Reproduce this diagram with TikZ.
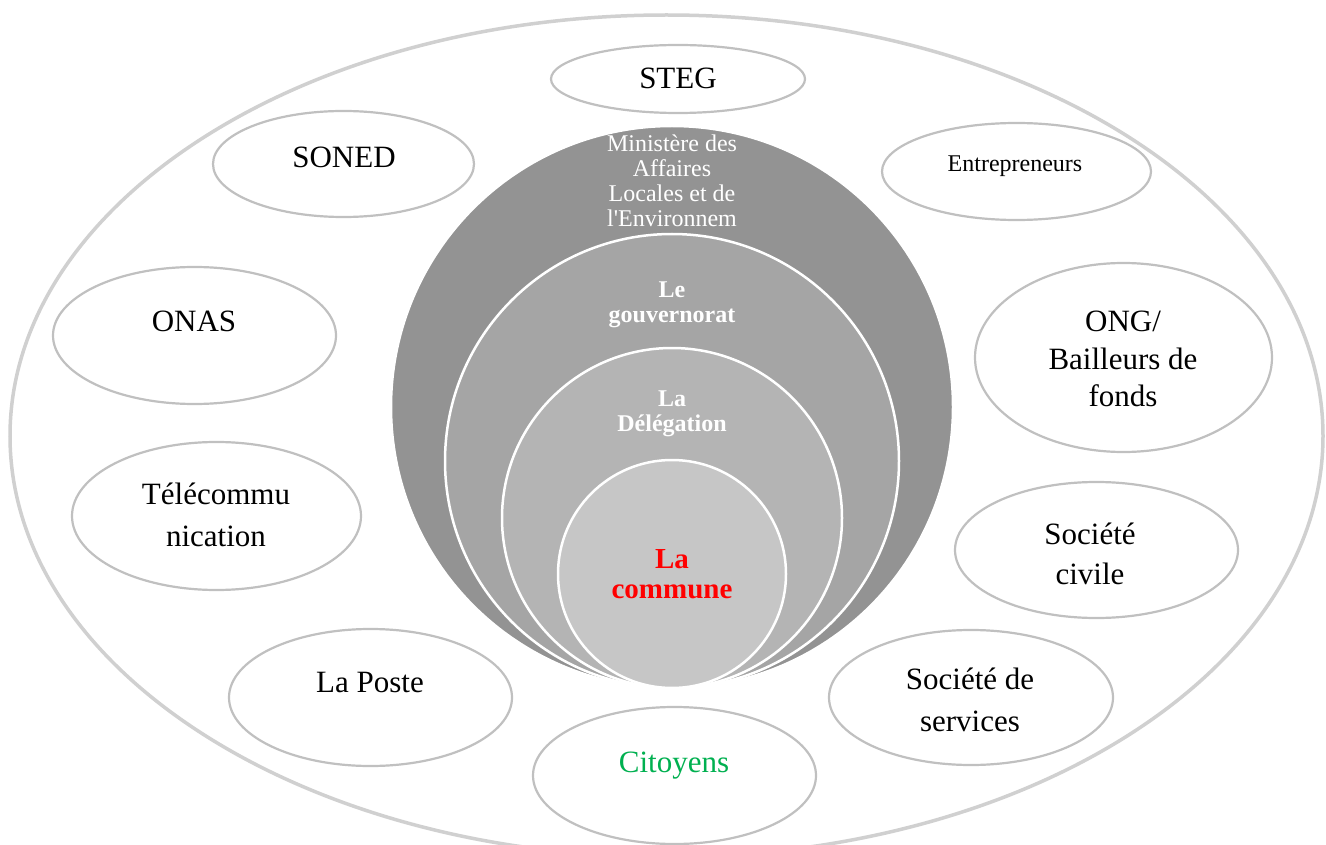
\documentclass[tikz,border=0pt]{standalone}
\usepackage{fontspec}
\setmainfont{Liberation Serif}[Ligatures=TeXOff]
\usetikzlibrary{shapes.geometric}
\definecolor{ringA}{HTML}{939393}
\definecolor{ringB}{HTML}{A5A5A5}
\definecolor{ringC}{HTML}{B4B4B4}
\definecolor{ringD}{HTML}{C6C6C6}
\definecolor{satline}{HTML}{C0C0C0}
\definecolor{frameline}{HTML}{D0D0D0}
\definecolor{citgreen}{HTML}{00B050}
\definecolor{comred}{HTML}{FF0000}
\begin{document}
\begin{tikzpicture}[x=1pt,y=-1pt,
  frame/.style={ellipse, draw=frameline, line width=3.5pt, inner sep=0pt},
  sat/.style={ellipse, draw=satline, line width=2.2pt, fill=white, inner sep=0pt},
  ring/.style={circle, draw=white, line width=2.5pt, inner sep=0pt},
  lab/.style={inner sep=0pt, align=center, text=black},
  ringlab/.style={inner sep=0pt, align=center, text=white}]
\useasboundingbox (0,0) rectangle (1326,845);
\fill[white] (0,0) rectangle (1326,845);
% outer frame
\node[frame, minimum width=1313pt, minimum height=842pt] (frameE) at (666.5,436) {};
% concentric circles
\node[ring, fill=ringA, minimum size=562pt] (ring1) at (672,407) {};
\node[ring, fill=ringB, minimum size=454pt] (ring2) at (672,461) {};
\node[ring, fill=ringC, minimum size=340pt] (ring3) at (672,518) {};
\node[ring, fill=ringD, minimum size=228pt] (ring4) at (672,574) {};
% ring labels
\node[ringlab, font=\fontsize{24}{25}\selectfont] (mal) at (672,180.3) {Ministère des\\Affaires\\Locales et de\\l'Environnem};
\node[ringlab, font=\fontsize{24}{25}\selectfont\bfseries] (gouv) at (672,305.2) {Le\\gouvernorat};
\node[ringlab, font=\fontsize{24}{25}\selectfont\bfseries] (deleg) at (672,414.2) {La\\Délégation};
\node[inner sep=0pt, align=center, text=comred, font=\fontsize{29}{29.5}\selectfont\bfseries] (comm) at (672,574) {La\\commune};
% satellites
\node[sat, minimum width=254pt, minimum height=68pt] (steg) at (678,79) {};
\node[lab, font=\fontsize{31}{40}\selectfont] (stegT) at (678,78.7) {STEG};
\node[sat, minimum width=261pt, minimum height=106pt] (soned) at (343.5,164) {};
\node[lab, font=\fontsize{31}{40}\selectfont] (sonedT) at (344,157.7) {SONED};
\node[sat, minimum width=269pt, minimum height=97pt] (entr) at (1016.5,171.5) {};
\node[lab, font=\fontsize{24}{30}\selectfont] (entrT) at (1015,165.7) {Entrepreneurs};
\node[sat, minimum width=283pt, minimum height=137pt] (onas) at (194.5,335.5) {};
\node[lab, font=\fontsize{31}{40}\selectfont] (onasT) at (194,321.7) {ONAS};
\node[sat, minimum width=297pt, minimum height=189pt] (ong) at (1123.5,357.5) {};
\node[lab, font=\fontsize{31}{37.5}\selectfont] (ongT) at (1123,359) {ONG/\\Bailleurs de\\fonds};
\node[sat, minimum width=289pt, minimum height=148pt] (tele) at (216.5,516) {};
\node[lab, font=\fontsize{31}{42}\selectfont] (teleT) at (216,515.3) {Télécommu\\nication};
\node[sat, minimum width=283pt, minimum height=136pt] (civ) at (1096.5,550) {};
\node[lab, font=\fontsize{31}{40}\selectfont] (civT) at (1090,554.3) {Société\\civile};
\node[sat, minimum width=283pt, minimum height=137pt] (poste) at (370.5,697.5) {};
\node[lab, font=\fontsize{31}{40}\selectfont] (posteT) at (370,682.7) {La Poste};
\node[sat, minimum width=284pt, minimum height=135pt] (serv) at (971,697.5) {};
\node[lab, font=\fontsize{31}{42}\selectfont] (servT) at (970,700.3) {Société de\\services};
\node[sat, minimum width=283pt, minimum height=137pt] (cit) at (674.5,775.5) {};
\node[inner sep=0pt, align=center, text=citgreen, font=\fontsize{31}{40}\selectfont] (citT) at (674,765.1) {Citoyens};
\end{tikzpicture}
\end{document}
